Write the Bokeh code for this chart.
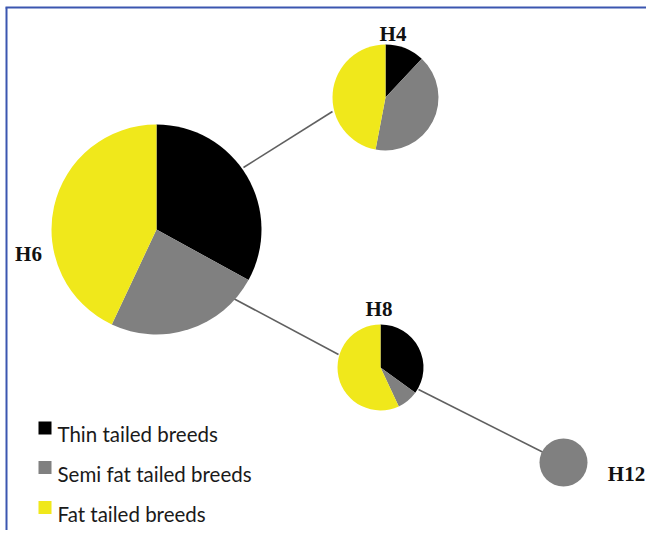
import numpy as np
from bokeh.plotting import figure
from bokeh.models import ColumnDataSource, Range1d
from bokeh.core.properties import value
from bokeh.embed import file_html
from bokeh.resources import INLINE

# ---- data ----
haplotypes = ["H6", "H4", "H8", "H12"]
categories = ["Thin tailed breeds", "Semi fat tailed breeds", "Fat tailed breeds"]
thin = [33, 12, 35, 0]
semi = [24, 41, 8, 100]
fat = [43, 47, 57, 0]

# ---- layout (plot coordinates, 1 unit = 1 px, y upward) ----
node_x = [156, 385, 380, 563]
node_y = [305, 437, 167, 72]
node_r = [105, 53, 43, 24]
edge_x0 = [243, 233, 418]
edge_y0 = [367, 236, 145]
edge_x1 = [332, 338, 543]
edge_y1 = [423, 180, 82]
label_x = [28, 392.5, 378.5, 626]
label_y = [281, 501, 226, 61]

colors = ["#000000", "#808080", "#f0e81b"]
line_col = "#606060"

W, H = 646, 530
TOP = 534
p = figure(width=W, height=H, output_backend="svg", toolbar_location=None,
           x_range=Range1d(0, W), y_range=Range1d(TOP - H, TOP), min_border=0)
p.axis.visible = False
p.grid.visible = False
p.outline_line_color = None
p.background_fill_color = "white"
p.border_fill_color = "white"

# edges
p.segment(x0=edge_x0, y0=edge_y0, x1=edge_x1, y1=edge_y1,
          line_color=line_col, line_width=1.6)

# pies
shares = np.array([thin, semi, fat], dtype=float)
shares = shares / shares.sum(axis=0)
wx, wy, wr, ws, we, wc = [], [], [], [], [], []
for j in range(len(haplotypes)):
    cum = 0.0
    for i in range(len(categories)):
        s = shares[i, j]
        if s <= 0:
            continue
        if s >= 0.9999:
            p.circle(x=[node_x[j]], y=[node_y[j]], radius=node_r[j],
                     fill_color=colors[i], line_color=None)
            cum += s
            continue
        end = np.pi / 2 - 2 * np.pi * cum
        start = np.pi / 2 - 2 * np.pi * (cum + s)
        wx.append(node_x[j]); wy.append(node_y[j]); wr.append(node_r[j])
        ws.append(start); we.append(end); wc.append(colors[i])
        cum += s
src = ColumnDataSource(dict(x=wx, y=wy, r=wr, s=ws, e=we, c=wc))
p.wedge(x="x", y="y", radius="r", start_angle="s", end_angle="e",
        fill_color="c", line_color=None, source=src)

# haplotype labels
p.text(x=label_x, y=label_y, text=haplotypes, text_font=value("Liberation Serif"),
       text_font_style="bold", text_font_size="21px", text_color="#111111",
       text_align="center", text_baseline="alphabetic")

# legend
leg_sq_y = [106.5, 67, 27]
leg_txt_y = [101, 61, 21]
p.scatter(x=[44.5] * 3, y=leg_sq_y, marker="square", size=13,
          fill_color=colors, line_color=None)
p.text(x=[57] * 3, y=leg_txt_y, text=categories, text_font=value("Lato"),
       text_font_size="20.5px", text_color="#1a1a1a",
       text_align="left", text_baseline="alphabetic")

# frame lines (top and left)
p.segment(x0=[6, 5], y0=[TOP - H, 527], x1=[6, W], y1=[527, 527],
          line_color="#3b56b0", line_width=2)

open("out.html", "w").write(file_html(p, INLINE))
